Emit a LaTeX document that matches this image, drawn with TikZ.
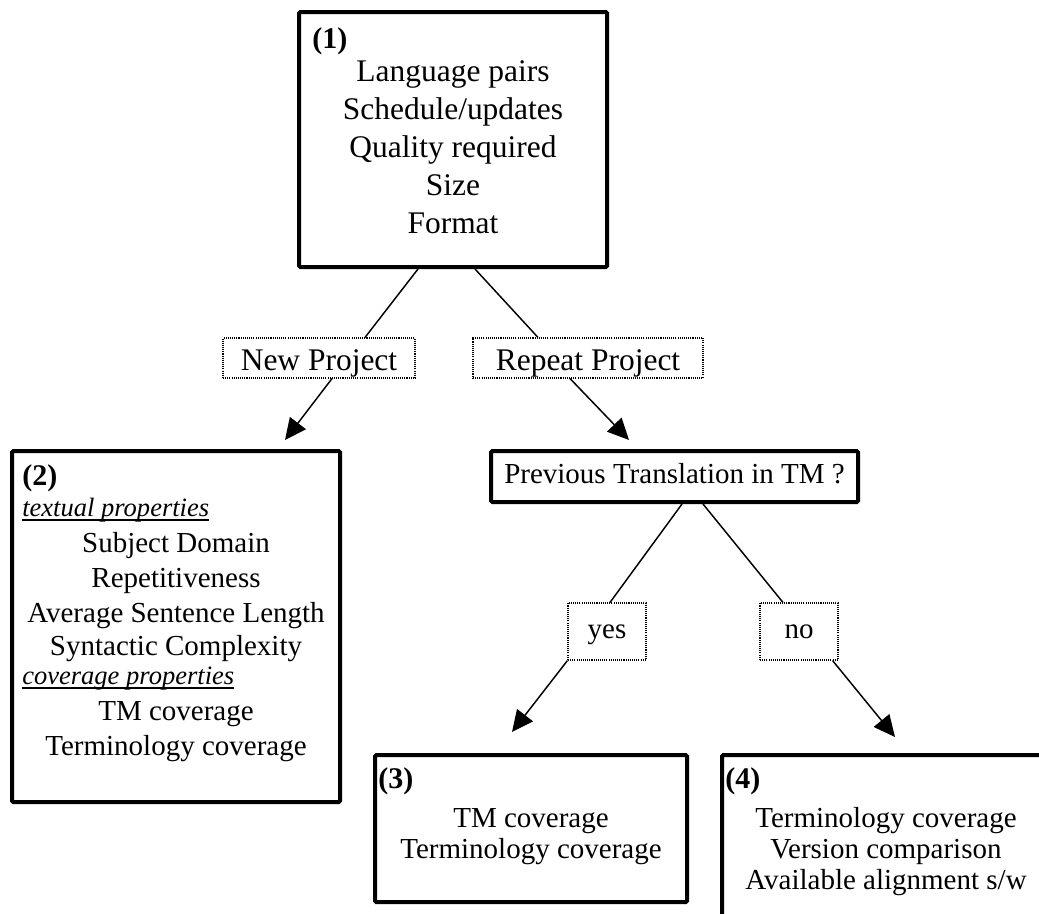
\documentclass[tikz,border=0pt]{standalone}
\usepackage{fontspec}
\setmainfont{Liberation Serif}
\usetikzlibrary{arrows.meta,calc}
\newdimen\pxu \pxu=0.75pt
\begin{document}
\begin{tikzpicture}[x=0.75pt,y=-0.75pt,
  bigbox/.style={draw,line width=3pt,inner sep=0pt,rounded corners=1pt},
  lblbox/.style={draw,line width=0.8pt,dash pattern=on 0.8pt off 0.8pt,inner sep=0pt},
  txt/.style={inner sep=0pt,anchor=base,font=\fontsize{21.75}{26}\selectfont},
  txtbig/.style={inner sep=0pt,anchor=base,font=\fontsize{23.6}{28}\selectfont},
  numtxt/.style={inner sep=0pt,anchor=base west,font=\fontsize{22.5}{27}\selectfont\bfseries},
  ittxt/.style={inner sep=0pt,anchor=base west,font=\fontsize{19.9}{24}\selectfont\itshape},
  conn/.style={line width=1.1pt},
  arr/.style={line width=1.1pt,-{Triangle[length=16pt,width=15pt]}},
  uline/.style={line width=0.9pt}]
\clip (0,0) rectangle (1039,914);
\fill[white] (0,0) rectangle (1039,914);

% Box 1
\node[bigbox,minimum width=308\pxu,minimum height=255\pxu] (b1) at (453,139.5) {};
\node[numtxt] (n1) at (312,48) {(1)};
\node[txtbig] (l1a) at (453,81) {Language pairs};
\node[txtbig] (l1b) at (453,119) {Schedule/updates};
\node[txtbig] (l1c) at (453,157) {Quality required};
\node[txtbig] (l1d) at (453,195) {Size};
\node[txtbig] (l1e) at (453,233) {Format};

% Labels
\node[lblbox,minimum width=192\pxu,minimum height=40\pxu] (newp) at (319,358) {};
\node[txtbig] (newt) at (319,370) {New Project};
\node[lblbox,minimum width=230\pxu,minimum height=40\pxu] (repp) at (588,358) {};
\node[txtbig] (rept) at (588,370) {Repeat Project};

% Box 2
\node[bigbox,minimum width=328\pxu,minimum height=351\pxu] (b2) at (176,626.5) {};
\node[numtxt] (n2) at (22,485) {(2)};
\node[ittxt] (t2a) at (22,516) {textual properties};
\draw[uline] ($(t2a.base west)+(0,4)$) -- ($(t2a.base east)+(0,4)$);
\node[txt] (l2a) at (176,552) {Subject Domain};
\node[txt] (l2b) at (176,587) {Repetitiveness};
\node[txt] (l2c) at (176,622) {Average Sentence Length};
\node[txt] (l2d) at (176,655) {Syntactic Complexity};
\node[ittxt] (t2b) at (22,684) {coverage properties};
\draw[uline] ($(t2b.base west)+(0,4)$) -- ($(t2b.base east)+(0,4)$);
\node[txt] (l2e) at (176,720) {TM coverage};
\node[txt] (l2f) at (176,755) {Terminology coverage};

% Previous translation box
\node[bigbox,minimum width=367\pxu,minimum height=51\pxu] (prev) at (674.5,476.5) {};
\node[txt] (prevt) at (674.5,483) {Previous Translation in TM ?};

% yes / no
\node[lblbox,minimum width=78\pxu,minimum height=57\pxu] (yes) at (607,631.5) {};
\node[txt] (yest) at (607,638) {yes};
\node[lblbox,minimum width=78\pxu,minimum height=57\pxu] (no) at (799,631.5) {};
\node[txt] (not) at (799,638) {no};

% Box 3
\node[bigbox,minimum width=312\pxu,minimum height=147\pxu] (b3) at (531,828.5) {};
\node[numtxt] (n3) at (378,788) {(3)};
\node[txt] (l3a) at (531,827) {TM coverage};
\node[txt] (l3b) at (531,858) {Terminology coverage};

% Box 4 (cut off by the picture edge)
\node[bigbox,minimum width=348\pxu,minimum height=195\pxu] (b4) at (896,852.5) {};
\node[numtxt] (n4) at (725,788) {(4)};
\node[txt] (l4a) at (886,827) {Terminology coverage};
\node[txt] (l4b) at (886,858) {Version comparison};
\node[txt] (l4c) at (886,889) {Available alignment s/w};

% arrow end points
\coordinate (tipnew) at (285,440);
\coordinate (tiprep) at (629,440);
\coordinate (tipyes) at (512,732);
\coordinate (tipno) at (895,737);

% connectors
\draw[conn] ($(b1.south)+(-35,0)$) -- ($(newp.north)+(46,0)$);
\draw[conn] ($(b1.south)+(22,0)$) -- ($(repp.north)+(-50,0)$);
\draw[arr] ($(newp.south)+(13,0)$) -- (tipnew);
\draw[arr] ($(repp.south)+(-18,0)$) -- (tiprep);
\draw[conn] ($(prev.south)+(7.5,0)$) -- ($(yes.north)+(3,0)$);
\draw[conn] ($(prev.south)+(28.5,0)$) -- ($(no.north)+(-16,0)$);
\draw[arr] (yes.south west) -- (tipyes);
\draw[arr] ($(no.south east)+(-6,0)$) -- (tipno);
\end{tikzpicture}
\end{document}
